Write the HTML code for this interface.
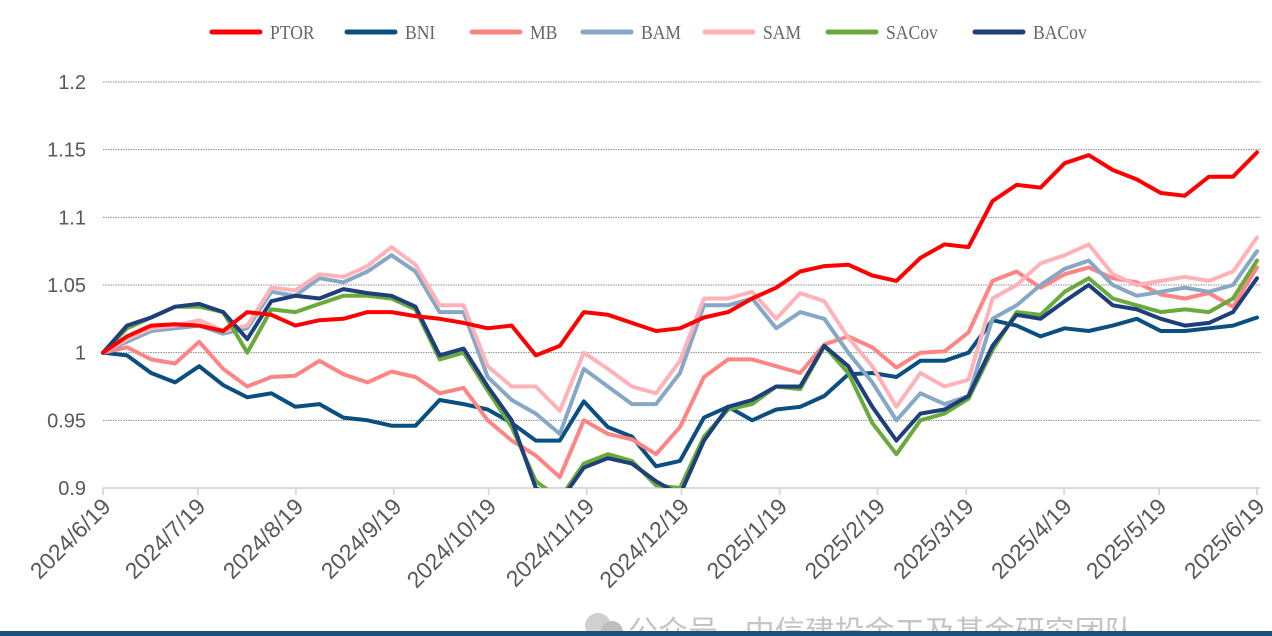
<!DOCTYPE html>
<html><head><meta charset="utf-8"><style>
html,body{margin:0;padding:0;background:#fff;}
#wrap{position:relative;width:1272px;height:636px;overflow:hidden;}
svg{position:absolute;left:0;top:0;}
</style></head><body>
<div id="wrap">
<svg id="chart" width="1272" height="636" viewBox="0 0 1272 636">
<defs><clipPath id="plotclip"><rect x="100" y="60" width="1165" height="428"/></clipPath></defs>
<g id="grid"></g>
<g id="yaxis"></g>
<g id="xaxis"></g>
<g id="series" clip-path="url(#plotclip)"></g>
<g id="legend"></g>
<g>
<circle cx="598" cy="626" r="13" fill="#d0d0d0"/><circle cx="612" cy="632" r="11" fill="#bdbdbd"/>
<text x="628" y="642" font-family="'Liberation Sans','Noto Sans CJK SC',sans-serif" font-size="30" fill="#c4c4c4">公众号 · 中信建投金工及基金研究团队</text>
</g>
<rect x="0" y="631" width="1272" height="5" fill="#1f4e79"/>
</svg>
</div>
<script>
const yTicks = [0.9, 0.95, 1, 1.05, 1.1, 1.15, 1.2];
const yTickLabels = ["0.9","0.95","1","1.05","1.1","1.15","1.2"];
const xTickLabels = ["2024/6/19","2024/7/19","2024/8/19","2024/9/19","2024/10/19","2024/11/19","2024/12/19","2025/1/19","2025/2/19","2025/3/19","2025/4/19","2025/5/19","2025/6/19"];
const xTickDays = [0,30,61,92,122,153,183,214,245,273,304,334,365];
const seriesNames = ["PTOR","BNI","MB","BAM","SAM","SACov","BACov"];
const PTOR = [1.000,1.012,1.020,1.021,1.020,1.016,1.030,1.028,1.020,1.024,1.025,1.030,1.030,1.027,1.025,1.022,1.018,1.020,0.998,1.005,1.030,1.028,1.022,1.016,1.018,1.026,1.030,1.040,1.048,1.060,1.064,1.065,1.057,1.053,1.070,1.080,1.078,1.112,1.124,1.122,1.140,1.146,1.135,1.128,1.118,1.116,1.130,1.130,1.148];
const BNI = [1.000,0.998,0.985,0.978,0.990,0.976,0.967,0.970,0.960,0.962,0.952,0.950,0.946,0.946,0.965,0.962,0.958,0.948,0.935,0.935,0.964,0.945,0.938,0.916,0.920,0.952,0.960,0.950,0.958,0.960,0.968,0.984,0.985,0.982,0.994,0.994,1.000,1.024,1.020,1.012,1.018,1.016,1.020,1.025,1.016,1.016,1.018,1.020,1.026];
const MB = [1.000,1.004,0.995,0.992,1.008,0.988,0.975,0.982,0.983,0.994,0.984,0.978,0.986,0.982,0.970,0.974,0.950,0.935,0.924,0.908,0.950,0.940,0.936,0.925,0.945,0.982,0.995,0.995,0.990,0.985,1.006,1.012,1.004,0.989,1.000,1.001,1.015,1.053,1.060,1.048,1.058,1.063,1.055,1.052,1.043,1.040,1.044,1.034,1.063];
const BAM = [1.000,1.008,1.016,1.018,1.020,1.014,1.018,1.045,1.042,1.055,1.052,1.060,1.072,1.060,1.030,1.030,0.982,0.965,0.955,0.940,0.988,0.975,0.962,0.962,0.985,1.035,1.035,1.040,1.018,1.030,1.025,1.000,0.978,0.950,0.970,0.962,0.968,1.025,1.035,1.050,1.062,1.068,1.050,1.042,1.045,1.048,1.045,1.050,1.075];
const SAM = [1.000,1.010,1.018,1.020,1.024,1.016,1.020,1.048,1.046,1.058,1.056,1.064,1.078,1.065,1.035,1.035,0.990,0.975,0.975,0.957,1.000,0.988,0.975,0.970,0.994,1.040,1.040,1.045,1.025,1.044,1.038,1.011,0.990,0.960,0.985,0.975,0.980,1.040,1.050,1.066,1.072,1.080,1.058,1.050,1.053,1.056,1.053,1.060,1.085];
const SACov = [1.000,1.018,1.026,1.034,1.034,1.030,1.000,1.032,1.030,1.036,1.042,1.042,1.040,1.032,0.995,1.000,0.972,0.945,0.905,0.892,0.918,0.925,0.920,0.902,0.900,0.938,0.958,0.962,0.975,0.973,1.005,0.985,0.948,0.925,0.950,0.955,0.966,1.002,1.030,1.028,1.045,1.055,1.040,1.035,1.030,1.032,1.030,1.040,1.068];
const BACov = [1.000,1.020,1.026,1.034,1.036,1.030,1.010,1.038,1.042,1.040,1.047,1.044,1.042,1.034,0.998,1.003,0.975,0.950,0.900,0.890,0.915,0.922,0.918,0.905,0.895,0.935,0.960,0.965,0.975,0.975,1.005,0.990,0.960,0.935,0.955,0.958,0.968,1.005,1.028,1.025,1.038,1.050,1.035,1.032,1.025,1.020,1.022,1.030,1.055];
const seriesColors = ["#ff0000","#0b4f80","#ff8585","#86a8c6","#ffb3b8","#6aaa3c","#1e3f7a"];

const NS="http://www.w3.org/2000/svg";
const X0=103, X1=1257, Y0=488, Y1=82, VMIN=0.9, VMAX=1.2, DAYS=365;
function yScale(v){return Y0-(v-VMIN)/(VMAX-VMIN)*(Y0-Y1);}
function xDay(d){return X0+d/DAYS*(X1-X0);}
function xIndex(i,n){return X0+i/(n-1)*(X1-X0);}
function mk(tag,attrs,parent){const e=document.createElementNS(NS,tag);for(const k in attrs)e.setAttribute(k,attrs[k]);parent.appendChild(e);return e;}

const grid=document.getElementById('grid'), yaxis=document.getElementById('yaxis'), xaxis=document.getElementById('xaxis');
yTicks.forEach((v,i)=>{
  const y=yScale(v);
  if(i>0){const l=mk('line',{x1:X0,x2:X1+4,y1:y,y2:y,stroke:'#8c8c8c','stroke-width':1,'stroke-dasharray':'1.5 1'},grid);
  
  }
  const t=mk('text',{x:86,y:y+7,'text-anchor':'end','font-family':"'Liberation Sans',sans-serif",'font-size':20,fill:'#595959'},yaxis);
  t.textContent=yTickLabels[i];
  
  
});
const base=mk('line',{x1:X0,x2:X1+3,y1:Y0,y2:Y0,stroke:'#d9d9d9','stroke-width':2},xaxis);


xTickDays.forEach((d,i)=>{
  const x=xDay(d);
  const tk=mk('line',{x1:x,x2:x,y1:Y0,y2:Y0+7,stroke:'#d9d9d9','stroke-width':2},xaxis);
  
  
  const ax=x+9, ay=Y0+20;
  const t=mk('text',{x:ax,y:ay,'text-anchor':'end','font-family':"'Liberation Sans',sans-serif",'font-size':23,fill:'#595959',transform:`rotate(-45 ${ax} ${ay})`},xaxis);
  t.textContent=xTickLabels[i];
  
  
});

const seriesData=[PTOR,BNI,MB,BAM,SAM,SACov,BACov];
const sg=document.getElementById('series');
const order=[1,2,3,4,5,6,0];
order.forEach(si=>{
  const d=seriesData[si];
  const pts=d.map((v,i)=>xIndex(i,d.length).toFixed(1)+','+yScale(v).toFixed(1)).join(' ');
  const p=mk('polyline',{points:pts,fill:'none',stroke:seriesColors[si],'stroke-width':4,'stroke-linejoin':'round','stroke-linecap':'round'},sg);
  
  
});

const lg=document.getElementById('legend');
const legX=[212,347,472,583,705,828,975];
seriesNames.forEach((n,i)=>{
  const g=mk('g',{},lg);
  
  
  mk('line',{x1:legX[i],x2:legX[i]+48,y1:32,y2:32,stroke:seriesColors[i],'stroke-width':5,'stroke-linecap':'round'},g);
  const t=mk('text',{x:legX[i]+58,y:39,'font-family':"'Liberation Serif',serif",'font-size':20,fill:'#666',transform:`translate(${(legX[i]+58)*0.12},0) scale(0.88,1)`},g);
  t.textContent=n;
});
</script>
</body></html>
